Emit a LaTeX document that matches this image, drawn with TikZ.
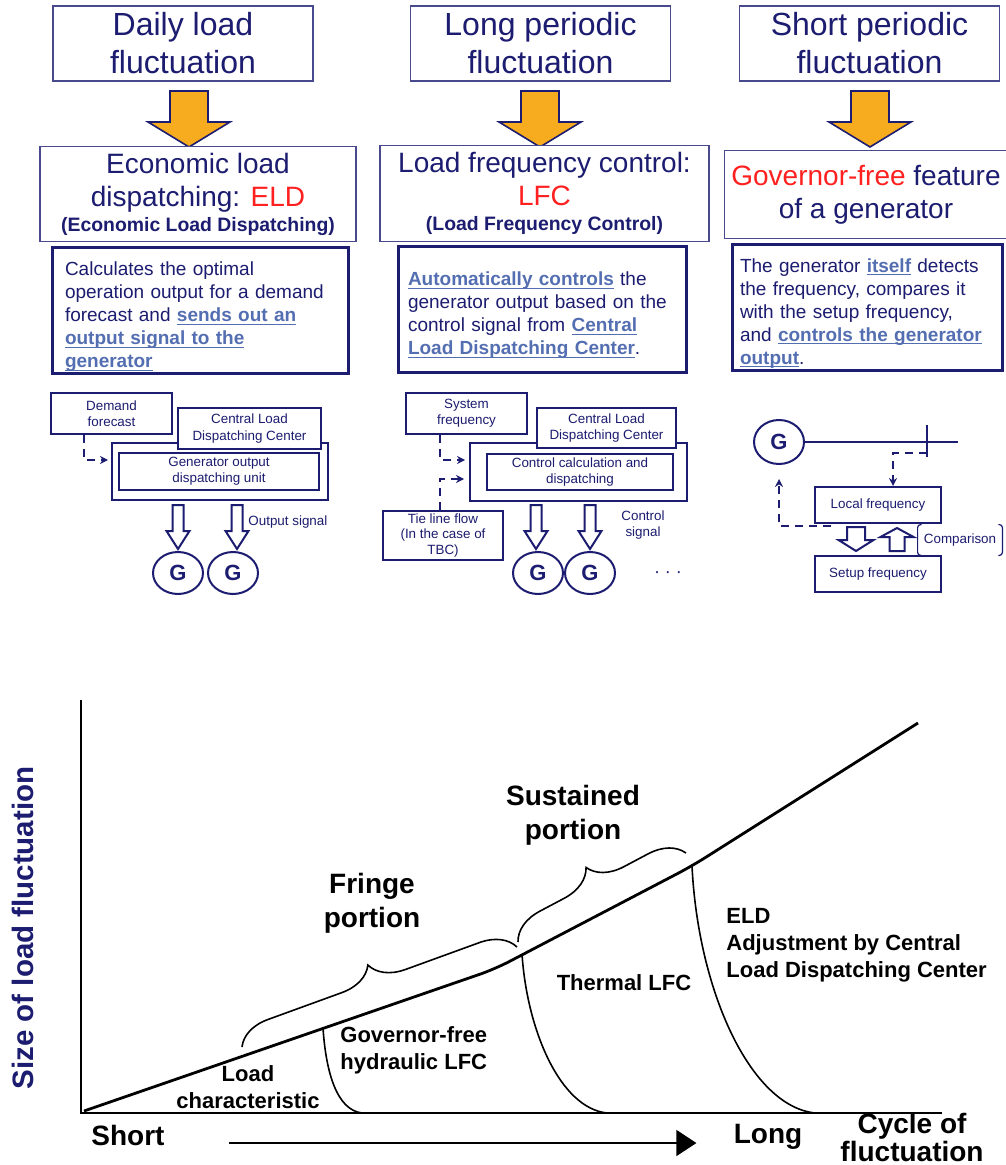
\documentclass[tikz,border=0pt]{standalone}
\usepackage{fontspec}
\setmainfont{Liberation Sans}
\usetikzlibrary{arrows.meta,calc,shapes.geometric,decorations.pathreplacing}

\definecolor{navy}{RGB}{28,28,112}
\definecolor{linkblue}{RGB}{84,110,178}
\definecolor{hotred}{RGB}{255,32,32}
\definecolor{amber}{RGB}{246,172,30}

\newcommand{\lnk}[1]{\leavevmode{\color{linkblue}\bfseries\setbox0\hbox{#1}\rlap{\rule[-1.4pt]{\wd0}{0.55pt}}\box0}}
\newcommand{\topgap}{\rule{0pt}{13pt}}

\begin{document}
\begin{tikzpicture}[
  x=0.5pt, y=-0.5pt,
  >=Stealth,
  headbox/.style={rectangle, draw=navy!80, line width=0.6pt, fill=white, text=navy, align=center, minimum width=130pt, minimum height=36.5pt, font=\fontsize{16}{19}\selectfont},
  methbox/.style={rectangle, draw=navy!80, line width=0.6pt, fill=white, text=navy, align=center, minimum height=44pt, font=\fontsize{14}{16.5}\selectfont},
  descbox/.style={rectangle, draw=navy, line width=1.5pt, fill=white, text=navy, align=left, inner xsep=6.5pt, inner ysep=0pt, minimum height=63pt, font=\fontsize{9.5}{11.5}\selectfont},
  unit/.style={rectangle, draw=navy, line width=1pt, fill=white, text=navy, align=center, inner sep=1pt, font=\fontsize{6.7}{8.2}\selectfont},
  gen/.style={ellipse, draw=navy, line width=1pt, fill=white, text=navy, minimum width=25pt, minimum height=21pt, inner sep=0pt, font=\fontsize{11}{11}\selectfont\bfseries},
  lbl/.style={text=navy, align=center, inner sep=0pt, font=\fontsize{6.7}{8.2}\selectfont},
  dashline/.style={draw=navy, line width=1pt, dash pattern=on 4pt off 3pt, -{Stealth[length=4pt,width=4pt]}},
  brk/.style={draw=navy, line width=0.6pt, rounded corners=1.5pt},
  amberarrow/.style={draw=navy, line width=0.8pt, fill=amber, line join=miter},
  hollow/.style={draw=navy, line width=1pt, fill=white},
  chartaxis/.style={line width=1.3pt},
  curveline/.style={line width=1.4pt, rounded corners=8pt},
  divline/.style={line width=0.8pt},
  bracepath/.style={line width=0.8pt, decorate, decoration={brace, amplitude=17pt}},
  chartbig/.style={align=center, inner sep=0pt, font=\fontsize{14}{17}\selectfont\bfseries},
  note/.style={align=center, inner sep=0pt, font=\fontsize{11}{13.5}\selectfont\bfseries},
  xarrow/.style={line width=0.6pt, -{Triangle[length=10pt,width=13pt]}},
  pics/blockarrow/.style n args={4}{code={
    \draw[hollow] (-#1,0) -- (#1,0) -- (#1,#4-#3) -- (#2,#4-#3) -- (0,#4) -- (-#2,#4-#3) -- (-#1,#4-#3) -- cycle;}}
]
\useasboundingbox (0,0) rectangle (1005,1165);
\fill[white] (0,0) rectangle (1005,1165);

\node[headbox] (daily) at (183,43.5) {Daily load\\fluctuation};
\node[headbox] (longp) at (540.5,43.5) {Long periodic\\fluctuation};
\node[headbox] (shortp) at (869.5,43.5) {Short periodic\\fluctuation};

\foreach \cx in {189,540,870}
  \draw[amberarrow] (\cx-19,91) -- (\cx+19,91) -- (\cx+19,122) -- (\cx+41,122) -- (\cx,147) -- (\cx-41,122) -- (\cx-19,122) -- cycle;

\node[methbox, minimum width=158pt] (eld) at (198,194) {Economic load\\dispatching: \textcolor{hotred}{ELD}\\[-4pt]{\fontsize{9.7}{11}\selectfont\bfseries (Economic Load Dispatching)}};
\node[methbox, minimum width=164.5pt] (lfc) at (544.5,193.5) {Load frequency control:\\\textcolor{hotred}{LFC}\\[-4pt]{\fontsize{9.7}{11}\selectfont\bfseries (Load Frequency Control)}};
\node[methbox, minimum width=137pt] (gfree) at (866,194.5) {\textcolor{hotred}{Governor-free} feature\\of a generator};

\node[descbox, text width=135pt, minimum width=148pt] (eldtxt) at (200,311) {\topgap Calculates the optimal\\operation output for a demand\\forecast and \lnk{sends out an}\\\lnk{output signal to the}\\\lnk{generator}};
\node[descbox, text width=134pt, inner xsep=5pt, minimum width=144pt] (lfctxt) at (542,309.5) {\topgap\lnk{Automatically controls} the\\generator output based on the\\control signal from \lnk{Central}\\\lnk{Load Dispatching Center}.};
\node[descbox, text width=127pt, inner xsep=4pt, minimum width=135pt] (gftxt) at (867,307.5) {\topgap The generator \lnk{itself} detects\\the frequency, compares it\\with the setup frequency,\\and \lnk{controls the generator}\\\lnk{output}.};

\node[unit, minimum width=60.5pt, minimum height=20.5pt] (demand) at (111.5,413.5) {Demand\\forecast};
\node[unit, minimum width=108pt, minimum height=28.5pt] (frameA) at (220,471.5) {};
\node[unit, minimum width=100pt, minimum height=18.5pt] (gdu) at (219,471.5) {Generator output\\dispatching unit};
\node[unit, minimum width=71.5pt, minimum height=20.5pt] (cldcA) at (249.5,428.5) {Central Load\\Dispatching Center};
\draw[dashline] ($(demand.south west)+(34,0)$) |- ($(frameA.west)+(-3,-11.5)$);
\node[gen] (g1) at (178,573) {G};
\node[gen] (g2) at (233,573) {G};
\pic at ($(g1 |- frameA.south)+(0,4)$) {blockarrow={5.5}{11.5}{18}{44}};
\pic at ($(g2 |- frameA.south)+(4,4)$) {blockarrow={5.5}{11.5}{18}{44}};
\node[lbl, anchor=west] (outsig) at (248,522) {Output signal};

\node[unit, minimum width=60.5pt, minimum height=20.5pt] (sysf) at (466.5,413.5) {System\\frequency};
\node[unit, minimum width=108.5pt, minimum height=29pt] (frameB) at (578.5,472) {};
\node[unit, minimum width=93pt, minimum height=18pt] (ccd) at (580,472) {Control calculation and\\dispatching};
\node[unit, minimum width=69.5pt, minimum height=20pt] (cldcB) at (606.5,428) {Central Load\\Dispatching Center};
\node[unit, minimum width=60pt, minimum height=24.5pt, font=\fontsize{6.7}{7.8}\selectfont] (tie) at (443,535.5) {Tie line flow\\(In the case of\\TBC)};
\draw[dashline] ($(sysf.south west)+(35,0)$) |- ($(frameB.west)+(-4,-12)$);
\draw[dashline] ($(tie.north west)+(58,0)$) |- ($(frameB.west)+(-5,7)$);
\node[gen] (g3) at (538,573) {G};
\node[gen] (g4) at (590,573) {G};
\pic at ($(g3 |- frameB.south)+(-2,3)$) {blockarrow={5.5}{11.5}{18}{44}};
\pic at ($(g4 |- frameB.south)+(0,3)$) {blockarrow={5.5}{11.5}{18}{44}};
\node[lbl] (ctlsig) at (643,525) {Control\\signal};
\node[lbl, font=\fontsize{9}{9}\selectfont] (more) at (668,575) {· · ·};

\node[gen, minimum height=22pt] (g5) at (779,442) {G};
\coordinate (busend) at (958,442);
\coordinate (tap) at (927,453);
\draw[navy, line width=1pt] (g5) -- (busend);
\draw[navy, line width=1pt] ($(tap)+(0,-28)$) -- ($(tap)+(0,4)$);
\node[unit, minimum width=63pt, minimum height=18pt] (locf) at (878,505) {Local frequency};
\node[unit, minimum width=63pt, minimum height=18pt] (setf) at (878,574) {Setup frequency};
\draw[dashline] (tap) -| ($(locf.north)+(15,0)$);
\draw[dashline] ($(locf.south west)+(17,2)$) -| ([yshift=-7pt]g5.south);
\pic at (856,527) {blockarrow={9}{17.5}{11}{24}};
\pic[yscale=-1] at (897,551) {blockarrow={7.5}{16.5}{9}{23}};
\node[lbl, minimum width=42pt, minimum height=15pt] (cmp) at (960,540) {Comparison};
\draw[brk] ([xshift=2pt]cmp.north west) -- (cmp.north west) -- (cmp.south west) -- ([xshift=2pt]cmp.south west);
\draw[brk] ([xshift=-2pt]cmp.north east) -- (cmp.north east) -- (cmp.south east) -- ([xshift=-2pt]cmp.south east);

\draw[chartaxis] (81,700) -- (81,1113) -- (942,1113);
\coordinate (o) at (84,1111);
\coordinate (k1) at (323,1028);
\coordinate (k2) at (522,954);
\coordinate (k3) at (692,866);
\coordinate (tipc) at (918,723);
\draw[curveline] (o) -- (495,969) -- (k3) -- (tipc);
\draw[divline] (k1) .. controls (326,1073) and (337,1110) .. (362,1113);
\draw[divline] (k2) .. controls (527,1030) and (560,1108) .. (607,1113);
\draw[divline] (k3) .. controls (698,990) and (750,1106) .. (815,1113);
\draw[bracepath] (242,1047) -- (517,947);
\draw[bracepath] (518,942) -- (686,853);

\node[chartbig] (sust) at (573,815) {Sustained\\portion};
\node[chartbig] (fringe) at (372,903) {Fringe\\portion};
\node[note] (loadc) at (248,1087) {Load\\characteristic};
\node[note, align=left, anchor=west] (govf) at (340,1050) {Governor-free\\hydraulic LFC};
\node[note] (therm) at (624,983) {Thermal LFC};
\node[note, align=left, anchor=west] (eldc) at (726,945) {ELD\\Adjustment by Central\\Load Dispatching Center};
\node[chartbig, anchor=west] (short) at (91,1135) {Short};
\node[chartbig] (long) at (768,1137) {Long};
\node[chartbig, font=\fontsize{14}{14}\selectfont\bfseries] (cycle) at (912,1137) {Cycle of\\fluctuation};
\draw[xarrow] ($(short.east)+(64,8)$) -- ($(short.east -| long.west)+(-37,8)$);
\node[chartbig, text=navy, rotate=90, font=\fontsize{14.75}{17}\selectfont\bfseries] (ylab) at (23,928) {Size of load fluctuation};
\end{tikzpicture}
\end{document}
